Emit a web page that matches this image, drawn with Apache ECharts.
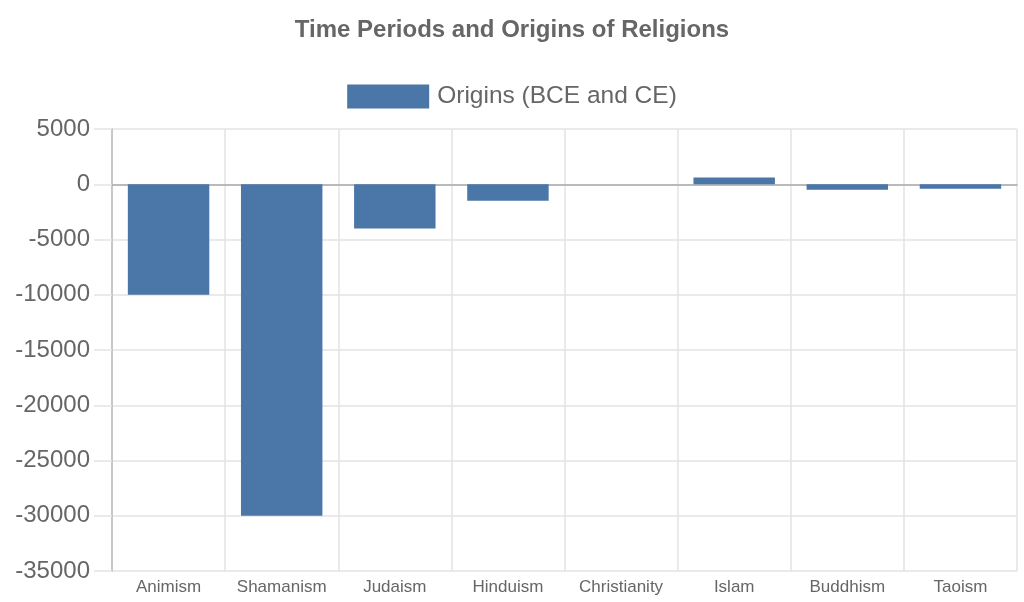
<!DOCTYPE html>
<html>
<head>
<meta charset="utf-8">
<script src="https://cdn.jsdelivr.net/npm/echarts@6/dist/echarts.min.js"></script>
<style>
html,body{margin:0;padding:0;background:#fff;}
#chart{width:1024px;height:602px;}
</style>
</head>
<body>
<div id="chart"></div>
<script>
// Data (lower part of the reference is hidden, so some are estimates)
var chartTitle = "Time Periods and Origins of Religions";
var seriesName = "Origins (BCE and CE)";
var categories = ["Animism", "Shamanism", "Judaism", "Hinduism", "Christianity", "Islam", "Buddhism", "Taoism"];
var originValues = [-10000, -30000, -4000, -1500, 0, 610, -500, -400];
var yMin = -35000, yMax = 5000, yStep = 5000;

var font = "'Liberation Sans', Arial, sans-serif";
var chart = echarts.init(document.getElementById('chart'), null, {renderer: 'canvas'});
chart.setOption({
  animation: false,
  title: {
    text: chartTitle, left: 'center', top: 13,
    textStyle: {fontFamily: font, fontSize: 24, fontWeight: 'bold', color: '#666'}
  },
  legend: {
    data: [seriesName], top: 79, left: 'center',
    icon: 'rect',
    itemWidth: 82, itemHeight: 24, itemGap: 10,
    textStyle: {fontFamily: font, fontSize: 24.5, color: '#666', padding: [0,0,0,3]}
  },
  grid: {left: 112, right: 7, top: 129, bottom: 31, containLabel: false},
  xAxis: {
    type: 'category', data: categories,
    axisLine: {show: true, onZero: true, lineStyle: {color: '#aaa', width: 1.5}},
    axisTick: {show: false},
    splitLine: {show: true, interval: 0, lineStyle: {color: '#e3e3e3', width: 1.5}},
    axisLabel: {fontFamily: font, fontSize: 17, color: '#666', margin: 8, interval: 0}
  },
  yAxis: {
    type: 'value', min: yMin, max: yMax, interval: yStep,
    axisLine: {show: true, lineStyle: {color: '#bbb', width: 1.5}},
    axisTick: {show: true, length: 18, lineStyle: {color: '#e3e3e3', width: 1.5}},
    splitLine: {show: true, lineStyle: {color: '#e3e3e3', width: 1.5}},
    axisLabel: {fontFamily: font, fontSize: 24, color: '#666', margin: 22,
      formatter: function (v) { return String(v); }}
  },
  series: [{
    name: seriesName, type: 'bar', data: originValues,
    barWidth: '72%',
    itemStyle: {color: '#4a76a8'}
  }]
});
</script>
</body>
</html>
